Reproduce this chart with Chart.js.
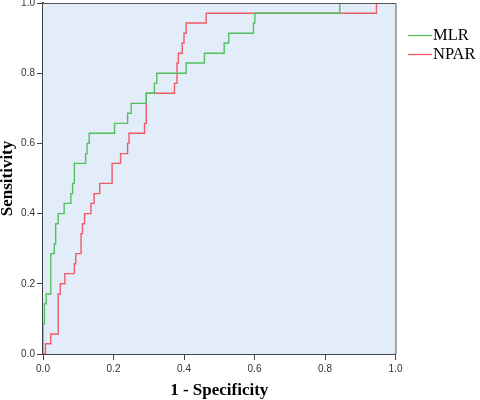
<!DOCTYPE html>
<html><head><meta charset="utf-8">
<script src="https://cdn.jsdelivr.net/npm/chart.js@4"></script>
<style>html,body{margin:0;padding:0;background:#fff}#wrap{width:480px;height:400px;position:relative}</style>
</head><body><div id="wrap"><canvas id="c"></canvas></div>
<script>
const seriesNames = ['MLR', 'NPAR'];
const seriesColors = ['#52c05e', '#ef5b66'];
const mlrX = [0, 0, 0.004, 0.009, 0.022, 0.032, 0.036, 0.043, 0.060, 0.079, 0.084, 0.089, 0.121, 0.125, 0.131, 0.203, 0.240, 0.250, 0.293, 0.316, 0.323, 0.406, 0.458, 0.514, 0.527, 0.597, 0.601, 0.842, 1.0];
const mlrY = [0, 0.086, 0.143, 0.171, 0.286, 0.314, 0.371, 0.400, 0.429, 0.457, 0.486, 0.543, 0.571, 0.600, 0.629, 0.657, 0.686, 0.714, 0.743, 0.771, 0.800, 0.829, 0.857, 0.886, 0.914, 0.943, 0.971, 1.0, 1.0];
const nparX = [0, 0.007, 0.022, 0.043, 0.049, 0.062, 0.089, 0.093, 0.108, 0.112, 0.118, 0.136, 0.145, 0.161, 0.196, 0.220, 0.240, 0.244, 0.288, 0.293, 0.373, 0.380, 0.384, 0.395, 0.400, 0.406, 0.463, 0.946, 1.0];
const nparY = [0, 0.029, 0.057, 0.171, 0.200, 0.229, 0.257, 0.286, 0.343, 0.371, 0.400, 0.429, 0.457, 0.486, 0.543, 0.571, 0.600, 0.629, 0.657, 0.743, 0.771, 0.829, 0.857, 0.886, 0.914, 0.943, 0.971, 1.0, 1.0];
const xTitle = '1 - Specificity';
const yTitle = 'Sensitivity';

const toPts = (xs, ys) => xs.map((x, i) => ({x: x, y: ys[i]}));

const bgPlugin = {
  id: 'bg',
  beforeDatasetsDraw(chart) {
    const {ctx, chartArea: a} = chart;
    ctx.save();
    ctx.fillStyle = '#e3edf9';
    ctx.fillRect(a.left, a.top, a.right - a.left, a.bottom - a.top);
    ctx.restore();
  },
  afterDatasetsDraw(chart) {
    const {ctx, chartArea: a} = chart;
    ctx.save();
    ctx.strokeStyle = '#555';
    ctx.lineWidth = 1;
    ctx.beginPath();
    ctx.moveTo(a.left, a.top + 0.5);
    ctx.lineTo(a.right + 0.5, a.top + 0.5);
    ctx.lineTo(a.right + 0.5, a.bottom);
    ctx.stroke();
    ctx.restore();
  },
  afterDraw(chart) {
    const ctx = chart.ctx;
    ctx.save();
    ctx.font = '16.5px "Liberation Serif"';
    ctx.textBaseline = 'middle';
    ctx.textAlign = 'left';
    const ys = [35.5, 54.5];
    chart.data.datasets.forEach((ds, i) => {
      ctx.strokeStyle = ds.borderColor;
      ctx.lineWidth = 1.3;
      ctx.beginPath();
      ctx.moveTo(408, ys[i]);
      ctx.lineTo(432, ys[i]);
      ctx.stroke();
      ctx.fillStyle = '#000';
      ctx.fillText(ds.label, 433, ys[i] + 0.5);
    });
    ctx.restore();
  }
};

new Chart(document.getElementById('c'), {
  type: 'scatter',
  data: {
    datasets: [
      {label: seriesNames[0], data: toPts(mlrX, mlrY), borderColor: seriesColors[0], backgroundColor: seriesColors[0], showLine: true, stepped: 'before', borderWidth: 1.4, pointRadius: 0, fill: false},
      {label: seriesNames[1], data: toPts(nparX, nparY), borderColor: seriesColors[1], backgroundColor: seriesColors[1], showLine: true, stepped: 'before', borderWidth: 1.4, pointRadius: 0, fill: false}
    ]
  },
  options: {
    responsive: true,
    maintainAspectRatio: false,
    animation: false,
    events: [],
    layout: {padding: {left: 0, top: 3, right: 84.5, bottom: 0}},
    plugins: {legend: {display: false}, tooltip: {enabled: false}},
    scales: {
      x: {
        type: 'linear', min: 0, max: 1,
        afterFit(s) { s.height = 46; },
        ticks: {stepSize: 0.2, padding: 3, color: '#333', font: {family: '"Liberation Sans"', size: 10}, callback: v => Number(v).toFixed(1), maxRotation: 0},
        grid: {display: true, drawOnChartArea: false, drawTicks: true, tickLength: 6, color: '#444', lineWidth: 1},
        border: {display: true, color: '#444', width: 2},
        title: {display: true, text: xTitle, color: '#000', font: {family: '"Liberation Serif"', size: 17, weight: 'bold', lineHeight: 1}, padding: {top: 0, bottom: 1}}
      },
      y: {
        type: 'linear', min: 0, max: 1,
        afterFit(s) { s.width = 43; s.paddingTop = 0; s.paddingBottom = 0; },
        ticks: {stepSize: 0.2, padding: 2, color: '#333', font: {family: '"Liberation Sans"', size: 10, lineHeight: 0.2}, callback: v => Number(v).toFixed(1)},
        grid: {display: true, drawOnChartArea: false, drawTicks: true, tickLength: 6, color: '#444', lineWidth: 1},
        border: {display: true, color: '#444', width: 2},
        title: {display: true, text: yTitle, color: '#000', font: {family: '"Liberation Serif"', size: 17, weight: 'bold', lineHeight: 1}, padding: {top: -1, bottom: 0}}
      }
    }
  },
  plugins: [bgPlugin]
});
</script>
</body></html>
